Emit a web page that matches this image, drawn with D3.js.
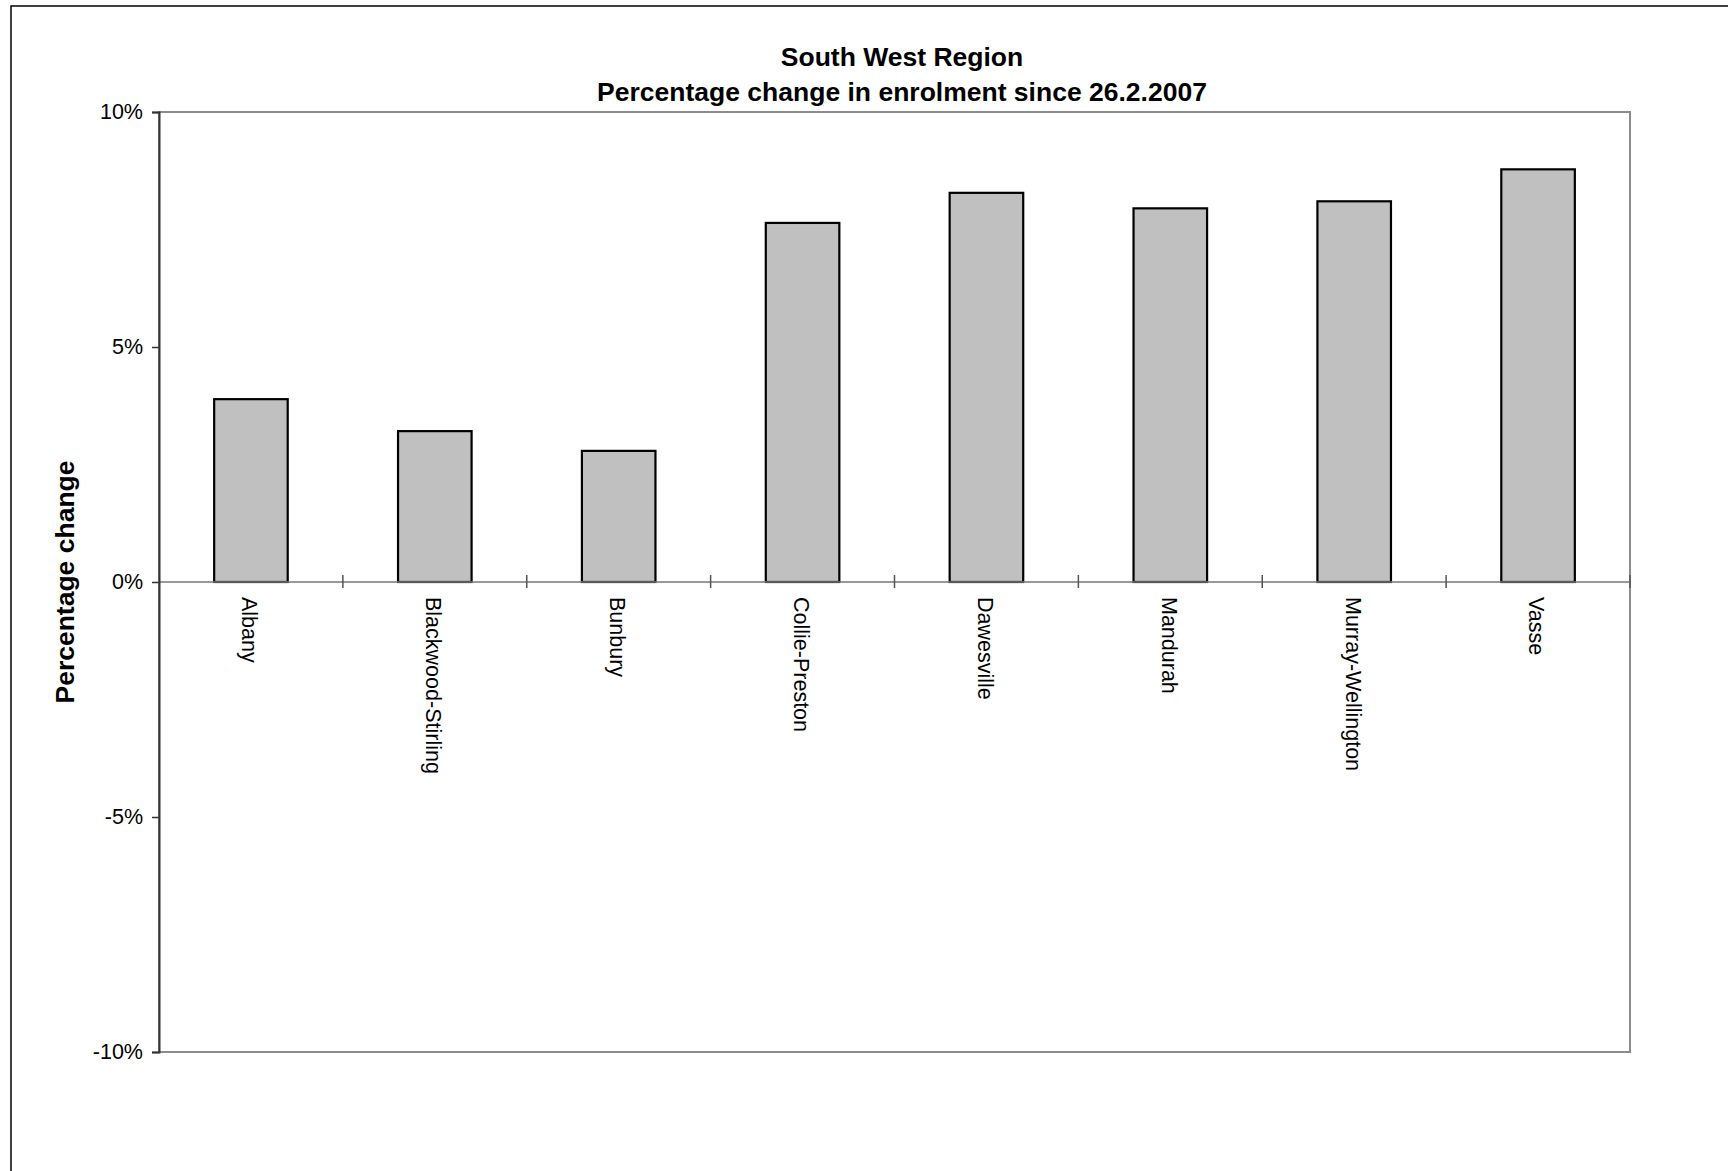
<!DOCTYPE html>
<html>
<head>
<meta charset="utf-8">
<script src="https://cdn.jsdelivr.net/npm/d3@7"></script>
<style>
  html, body { margin: 0; padding: 0; background: #fff; }
  svg { display: block; }
  text { font-family: "Liberation Sans", Arial, sans-serif; fill: #000; }
</style>
</head>
<body>
<script>
const categories = ["Albany", "Blackwood-Stirling", "Bunbury", "Collie-Preston", "Dawesville", "Mandurah", "Murray-Wellington", "Vasse"];
const values = [3.89, 3.21, 2.79, 7.64, 8.28, 7.95, 8.10, 8.78];
const yTicks = [-10, -5, 0, 5, 10];
const titleLines = ["South West Region", "Percentage change in enrolment since 26.2.2007"];
const yAxisTitle = "Percentage change";

const W = 1728, H = 1171;
const plot = { left: 159, right: 1630, top: 112, bottom: 1052 };

const svg = d3.select("body").append("svg").attr("width", W).attr("height", H);

// outer chart border
svg.append("rect").attr("x", 11).attr("y", 6).attr("width", 1800).attr("height", 1300)
  .attr("fill", "none").attr("stroke", "#000").attr("stroke-width", 1.5);

const x = d3.scaleBand().domain(categories).range([plot.left, plot.right])
  .paddingInner(0.6).paddingOuter(0.3);
const y = d3.scaleLinear().domain([-10, 10]).range([plot.bottom, plot.top]);

// plot area border (grey)
svg.append("rect").attr("x", plot.left).attr("y", plot.top)
  .attr("width", plot.right - plot.left).attr("height", plot.bottom - plot.top)
  .attr("fill", "none").attr("stroke", "#8c8c8c").attr("stroke-width", 2);

// bars
svg.append("g").selectAll("rect").data(values).join("rect")
  .attr("x", (d, i) => x(categories[i]))
  .attr("width", x.bandwidth())
  .attr("y", d => y(Math.max(0, d)))
  .attr("height", d => Math.abs(y(d) - y(0)))
  .attr("fill", "#c0c0c0").attr("stroke", "#000").attr("stroke-width", 2.2);

// x axis (zero line) with ticks at band boundaries
const zeroY = y(0);
svg.append("line").attr("x1", plot.left).attr("x2", plot.right)
  .attr("y1", zeroY).attr("y2", zeroY).attr("stroke", "#777").attr("stroke-width", 1.5);
const step = x.step();
const boundaries = d3.range(categories.length + 1).map(i => plot.left + i * step);
svg.append("g").selectAll("line").data(boundaries.slice(1)).join("line")
  .attr("x1", d => d).attr("x2", d => d)
  .attr("y1", zeroY - 7).attr("y2", zeroY + 6)
  .attr("stroke", "#555").attr("stroke-width", 1.5);

// category labels (rotated)
svg.append("g").selectAll("text").data(categories).join("text")
  .attr("transform", d => `translate(${x(d) + x.bandwidth() / 2},${zeroY + 15}) rotate(90)`)
  .attr("dy", "0.4em")
  .attr("font-size", 21.5)
  .text(d => d);

// y axis
const yAxis = d3.axisLeft(y).tickValues(yTicks).tickSize(7).tickPadding(9)
  .tickFormat(d => d + "%");
const ga = svg.append("g").attr("transform", `translate(${plot.left},0)`).call(yAxis);
ga.select(".domain").attr("stroke", "#333").attr("stroke-width", 2);
ga.selectAll(".tick line").attr("stroke", "#333").attr("stroke-width", 1.5);
ga.selectAll(".tick text").attr("font-size", 21.5)
  .attr("font-family", '"Liberation Sans", Arial, sans-serif').attr("fill", "#000");

// titles
svg.append("g").selectAll("text").data(titleLines).join("text")
  .attr("x", 902).attr("y", (d, i) => 66 + i * 35)
  .attr("text-anchor", "middle").attr("font-weight", "bold").attr("font-size", 26.5)
  .text(d => d);

svg.append("text")
  .attr("transform", `translate(74,${(plot.top + plot.bottom) / 2}) rotate(-90)`)
  .attr("text-anchor", "middle").attr("font-weight", "bold").attr("font-size", 26.5)
  .text(yAxisTitle);
</script>
</body>
</html>
